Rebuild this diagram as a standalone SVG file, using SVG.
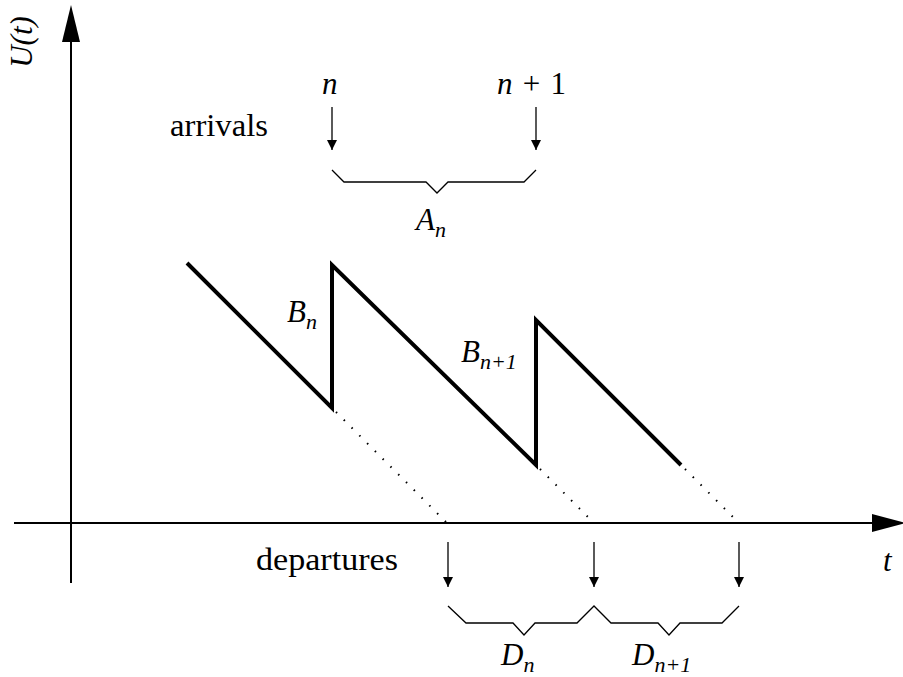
<svg xmlns="http://www.w3.org/2000/svg" width="903" height="677" viewBox="0 0 903 677">
<style>
.ax{stroke:#000;stroke-width:2;fill:none}
.saw{stroke:#000;stroke-width:4;fill:none;stroke-linejoin:miter}
.dot{stroke:#000;stroke-width:2;fill:none;stroke-dasharray:1.5 9.5}
.thin{stroke:#000;stroke-width:1.3;fill:none}
.head{fill:#000}
text{font-family:"Liberation Serif","Times New Roman",serif;fill:#000;font-weight:normal}
.m{font-style:italic}
.t{font-size:31px}
.s{font-size:22px}
</style>
<defs>
<marker id="ar" viewBox="0 0 10 20" refX="10" refY="10" markerWidth="10" markerHeight="20" markerUnits="userSpaceOnUse" orient="auto">
<path d="M0,5 L10,10 L0,15 Z" fill="#000"/>
</marker>
</defs>
<g id="axes">
<line class="ax" x1="71" y1="583" x2="71" y2="30"/>
<path class="head" d="M71,5 L80,42 L62,42 Z"/>
<line class="ax" x1="14" y1="523" x2="880" y2="523"/>
<path class="head" d="M906,523 L872,514 L872,532 Z"/>
<text class="t m" transform="translate(32,42) rotate(-90)" text-anchor="middle">U(t)</text>
<text class="t m" x="883" y="571">t</text>
</g>
<g id="sawtooth">
<polyline class="saw" points="187,263 332,408 332,265 536,465 536,320 681,465"/>
</g>
<g id="connectors">
<line class="dot" x1="336" y1="412" x2="447" y2="523"/>
<line class="dot" x1="540" y1="469" x2="594" y2="523"/>
<line class="dot" x1="685" y1="469" x2="739" y2="523"/>
<line class="thin" x1="332" y1="107" x2="332" y2="150" marker-end="url(#ar)"/>
<line class="thin" x1="536" y1="107" x2="536" y2="150" marker-end="url(#ar)"/>
<line class="thin" x1="448" y1="542" x2="448" y2="587" marker-end="url(#ar)"/>
<line class="thin" x1="594" y1="542" x2="594" y2="587" marker-end="url(#ar)"/>
<line class="thin" x1="739" y1="542" x2="739" y2="587" marker-end="url(#ar)"/>
</g>
<g id="braces">
<polyline class="thin" points="332,170 344,182 426,182 437,193 448,182 524,182 536,170"/>
<polyline class="thin" points="448,606 466,623 513,623 524,635 535,623 577,623 594,606 611,623 658,623 669,635 680,623 722,623 739,606"/>
</g>
<g id="labels">
<text class="t" x="170" y="136" textLength="98" lengthAdjust="spacingAndGlyphs">arrivals</text>
<text class="t" x="256" y="570" textLength="142" lengthAdjust="spacingAndGlyphs">departures</text>
<text class="t m" x="322" y="94">n</text>
<text class="t" x="497" y="94" textLength="69" lengthAdjust="spacing"><tspan class="m">n</tspan> + 1</text>
<text class="t m" x="416" y="230">A<tspan class="s" dy="7">n</tspan></text>
<text class="t m" x="287" y="322">B<tspan class="s" dy="7">n</tspan></text>
<text class="t m" x="461" y="362">B<tspan class="s" dy="7">n+1</tspan></text>
<text class="t m" x="501" y="665">D<tspan class="s" dy="7">n</tspan></text>
<text class="t m" x="632" y="665">D<tspan class="s" dy="7">n+1</tspan></text>
</g>
</svg>
